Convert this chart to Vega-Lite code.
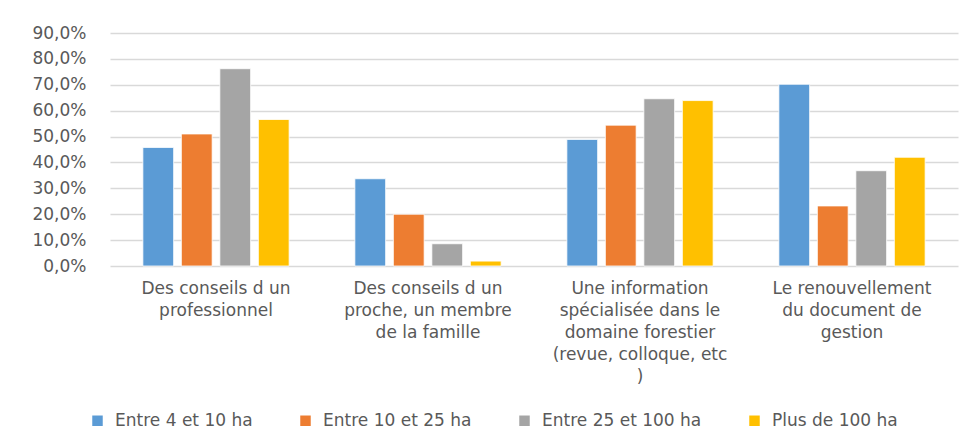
{
  "$schema": "https://vega.github.io/schema/vega-lite/v6.json",
  "autosize": {"type": "none"},
  "padding": {"left": 110, "top": 33, "right": 16, "bottom": 175},
  "width": 848,
  "height": 233,
  "background": "white",
  "config": {
    "view": {"stroke": null},
    "font": "DejaVu Sans"
  },
  "data": {
    "values": [
      {"cat": "Des conseils d un professionnel", "serie": "Entre 4 et 10 ha", "v": 0.458},
      {"cat": "Des conseils d un professionnel", "serie": "Entre 10 et 25 ha", "v": 0.510},
      {"cat": "Des conseils d un professionnel", "serie": "Entre 25 et 100 ha", "v": 0.762},
      {"cat": "Des conseils d un professionnel", "serie": "Plus de 100 ha", "v": 0.566},
      {"cat": "Des conseils d un proche, un membre de la famille", "serie": "Entre 4 et 10 ha", "v": 0.337},
      {"cat": "Des conseils d un proche, un membre de la famille", "serie": "Entre 10 et 25 ha", "v": 0.200},
      {"cat": "Des conseils d un proche, un membre de la famille", "serie": "Entre 25 et 100 ha", "v": 0.086},
      {"cat": "Des conseils d un proche, un membre de la famille", "serie": "Plus de 100 ha", "v": 0.019},
      {"cat": "Une information spécialisée dans le domaine forestier (revue, colloque, etc )", "serie": "Entre 4 et 10 ha", "v": 0.489},
      {"cat": "Une information spécialisée dans le domaine forestier (revue, colloque, etc )", "serie": "Entre 10 et 25 ha", "v": 0.544},
      {"cat": "Une information spécialisée dans le domaine forestier (revue, colloque, etc )", "serie": "Entre 25 et 100 ha", "v": 0.646},
      {"cat": "Une information spécialisée dans le domaine forestier (revue, colloque, etc )", "serie": "Plus de 100 ha", "v": 0.639},
      {"cat": "Le renouvellement du document de gestion", "serie": "Entre 4 et 10 ha", "v": 0.702},
      {"cat": "Le renouvellement du document de gestion", "serie": "Entre 10 et 25 ha", "v": 0.232},
      {"cat": "Le renouvellement du document de gestion", "serie": "Entre 25 et 100 ha", "v": 0.368},
      {"cat": "Le renouvellement du document de gestion", "serie": "Plus de 100 ha", "v": 0.420}
    ]
  },
  "mark": {"type": "bar", "stroke": "white", "strokeWidth": 0.8},
  "encoding": {
    "x": {
      "field": "cat",
      "type": "nominal",
      "sort": null,
      "scale": {"paddingInner": 0.31, "paddingOuter": 0.155},
      "axis": {
        "title": null,
        "labelAngle": 0,
        "domain": false,
        "ticks": false,
        "labelPadding": 14,
        "labelBaseline": "top",
        "labelFontSize": 17,
        "labelColor": "#595959",
        "labelLineHeight": 22,
        "labelLimit": 0,
        "labelExpr": "datum.value == 'Des conseils d un professionnel' ? ['Des conseils d un', 'professionnel'] : datum.value == 'Des conseils d un proche, un membre de la famille' ? ['Des conseils d un', 'proche, un membre', 'de la famille'] : datum.value == 'Le renouvellement du document de gestion' ? ['Le renouvellement', 'du document de', 'gestion'] : ['Une information', 'spécialisée dans le', 'domaine forestier', '(revue, colloque, etc', ')']"
      }
    },
    "xOffset": {
      "field": "serie",
      "type": "nominal",
      "sort": ["Entre 4 et 10 ha", "Entre 10 et 25 ha", "Entre 25 et 100 ha", "Plus de 100 ha"],
      "scale": {"paddingInner": 0.2, "paddingOuter": 0}
    },
    "y": {
      "field": "v",
      "type": "quantitative",
      "scale": {"domain": [0, 0.9], "nice": false},
      "axis": {
        "title": null,
        "values": [0, 0.1, 0.2, 0.3, 0.4, 0.5, 0.6, 0.7, 0.8, 0.9],
        "labelExpr": "replace(format(datum.value, '.1%'), '.', ',')",
        "domain": false,
        "ticks": false,
        "labelPadding": 24,
        "labelFontSize": 17,
        "labelColor": "#595959",
        "gridColor": "#D9D9D9",
        "gridWidth": 1.5
      }
    },
    "color": {
      "field": "serie",
      "type": "nominal",
      "sort": ["Entre 4 et 10 ha", "Entre 10 et 25 ha", "Entre 25 et 100 ha", "Plus de 100 ha"],
      "scale": {"range": ["#5B9BD5", "#ED7D31", "#A5A5A5", "#FFC000"]},
      "legend": {
        "title": null,
        "orient": "none",
        "direction": "horizontal",
        "columns": 4,
        "legendX": -21,
        "legendY": 379,
        "padding": 0,
        "symbolType": "square",
        "symbolSize": 110,
        "symbolStrokeWidth": 0,
        "labelFontSize": 17,
        "labelColor": "#595959",
        "labelOffset": 9,
        "columnPadding": 44,
        "labelLimit": 0
      }
    }
  }
}
